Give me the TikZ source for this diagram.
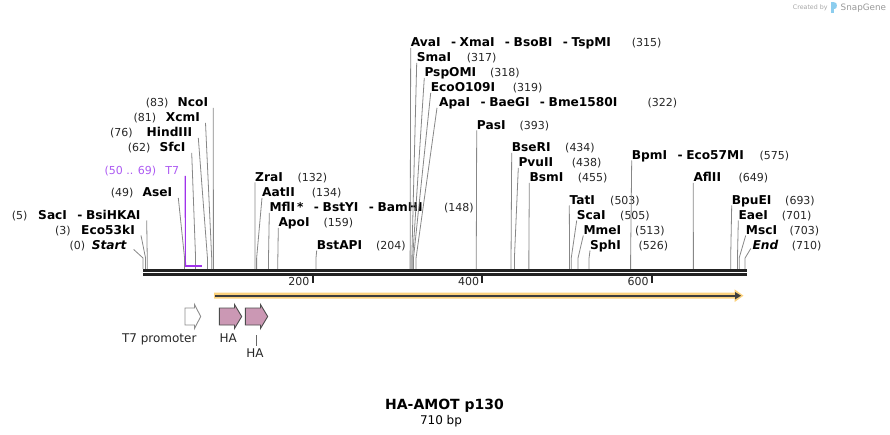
\documentclass[tikz,border=0pt]{standalone}
\usepackage{fontspec}
\setmainfont{DejaVu Sans}
\usepackage{xcolor}
\usepackage{tikz}
\usetikzlibrary{positioning}

\definecolor{sitegray}{RGB}{135,135,135}
\definecolor{bbcol}{RGB}{34,34,34}
\definecolor{t7col}{RGB}{160,50,235}
\definecolor{t7txt}{RGB}{172,90,242}
\definecolor{orfband}{RGB}{252,210,125}
\definecolor{orfline}{RGB}{62,62,62}
\definecolor{hafill}{RGB}{203,152,180}
\definecolor{sgblue}{RGB}{140,205,238}
\newcommand{\enzsep}{\hspace{0.85em}-\hspace{0.3em}}

\begin{document}
\begin{tikzpicture}[
    x=1pt, y=-1pt,
    declare function={bp(\n)=143+0.848*\n;},
    enz/.style={font=\fontsize{12.2}{14}\selectfont\bfseries, inner sep=0pt},
    endpt/.style={font=\fontsize{12.2}{14}\selectfont\bfseries\itshape, inner sep=0pt},
    num/.style={font=\fontsize{11}{13}\selectfont, text=black!85, inner sep=0pt},
    site/.style={draw=sitegray, line width=0.8pt},
    backbone/.style={draw=bbcol, line width=2.7pt},
    tick/.style={draw=bbcol, line width=2pt},
    featlbl/.style={font=\fontsize{12}{14}\selectfont, text=black!85, inner sep=0pt},
    feat/.style={draw=black!70, line width=0.9pt, line join=miter}
]
\useasboundingbox (0,0) rectangle (890,435);

% watermark
\node[anchor=base west, inner sep=0pt, text=black!35, font=\fontsize{6.3}{7}\selectfont] (madeby) at (792.7,9.3) {Created by};
\fill[sgblue] (831,2.5) rectangle (833.6,13.5);
\fill[sgblue] (833.6,2.5) -- (835,2.5) to[out=0,in=0] (835,8.8) -- (833.6,8.8) -- cycle;
\node[anchor=base west, inner sep=0pt, text=black!40, font=\fontsize{8.8}{10}\selectfont] (sgname) at (840.5,10.3) {SnapGene};

% site positions on the backbone
\foreach \p in {0,3,5,49,62,76,81,83,132,134,148,159,204,315,317,318,319,322,393,434,438,455,503,505,513,526,575,649,693,701,703,710}
  \coordinate (s\p) at ({bp(\p)},269);

% left labels
\node[endpt, anchor=base east] (startlbl) at (126.7,249.5) {Start};
\node[num, anchor=base west] (n0) at (69.3,249.5) {(0)};
\node[enz, anchor=base east] (eco53kI) at (135,234.5) {Eco53kI};
\node[num, anchor=base west] (n3) at (55,234.5) {(3)};
\node[enz, anchor=base east] (sacI) at (140.7,219.5) {SacI\enzsep BsiHKAI};
\node[num, anchor=base west] (n5) at (11.7,219.5) {(5)};
\node[enz, anchor=base east] (aseI) at (172.3,196.8) {AseI};
\node[num, anchor=base west] (n49) at (110.7,196.8) {(49)};
\node[enz, anchor=base east] (sfcI) at (185.7,151.8) {SfcI};
\node[num, anchor=base west] (n62) at (127.7,151.8) {(62)};
\node[enz, anchor=base east] (hindIII) at (192.3,136.8) {HindIII};
\node[num, anchor=base west] (n76) at (110,136.8) {(76)};
\node[enz, anchor=base east] (xcmI) at (200,121.8) {XcmI};
\node[num, anchor=base west] (n81) at (133.3,121.8) {(81)};
\node[enz, anchor=base east] (ncoI) at (208.3,106.8) {NcoI};
\node[num, anchor=base west] (n83) at (145.7,106.8) {(83)};

\draw[site] ([xshift=7pt]startlbl.base east) -- ([yshift=11pt]s0) -- (s0);
\draw[site] ([xshift=6pt,yshift=-1pt]eco53kI.base east) -- ([yshift=11pt]s3) -- (s3);
\draw[site] ([xshift=6pt,yshift=-1pt]sacI.base east) -- ([yshift=11pt]s5) -- (s5);
\draw[site] ([xshift=6pt,yshift=-1pt]aseI.base east) -- ([yshift=11pt]s49) -- (s49);
\draw[site] ([xshift=6pt,yshift=-1pt]sfcI.base east) -- ([yshift=11pt]s62) -- (s62);
\draw[site] ([xshift=6pt,yshift=-1pt]hindIII.base east) -- ([yshift=11pt]s76) -- (s76);
\draw[site] ([xshift=5.5pt,yshift=-1pt]xcmI.base east) -- ([yshift=11pt]s81) -- (s81);
\draw[site] ([xshift=5pt,yshift=-1pt]ncoI.base east) -- ([yshift=11pt]s83) -- (s83);

% T7 primer
\node[num, text=t7txt, anchor=base east] (t7lbl) at (179.3,174.5) {T7};
\node[num, text=t7txt, anchor=base west] (t7pos) at (104.3,174.5) {(50 .. 69)};
\coordinate (t7a) at ({bp(50)},265.7);
\coordinate (t7b) at ({bp(69)},265.7);
\draw[t7col, line width=1.2pt] ([xshift=6pt,yshift=-1.5pt]t7lbl.base east) -- (t7a);
\draw[t7col, line width=2pt] (t7a) -- (t7b);

% right labels
\node[enz, anchor=base west] (zraI) at (255,181.3) {ZraI};
\node[num, anchor=base west] (n132) at (297.3,181.3) {(132)};
\node[enz, anchor=base west] (aatII) at (262,196.8) {AatII};
\node[num, anchor=base west] (n134) at (311.7,196.8) {(134)};
\node[enz, anchor=base west] (mflI) at (269.3,211.8) {MflI\,*\enzsep BstYI\enzsep BamHI};
\node[num, anchor=base west] (n148) at (444,211.8) {(148)};
\node[enz, anchor=base west] (apoI) at (278.3,226.8) {ApoI};
\node[num, anchor=base west] (n159) at (323.3,226.8) {(159)};
\node[enz, anchor=base west] (bstAPI) at (316.7,249.5) {BstAPI};
\node[num, anchor=base west] (n204) at (376,249.5) {(204)};
\node[enz, anchor=base west] (avaI) at (410.7,46.8) {AvaI\enzsep XmaI\enzsep BsoBI\enzsep TspMI};
\node[num, anchor=base west] (n315) at (631.7,46.8) {(315)};
\node[enz, anchor=base west] (smaI) at (416.7,61.8) {SmaI};
\node[num, anchor=base west] (n317) at (466.7,61.8) {(317)};
\node[enz, anchor=base west] (pspOMI) at (424.3,76.8) {PspOMI};
\node[num, anchor=base west] (n318) at (490,76.8) {(318)};
\node[enz, anchor=base west] (ecoO109I) at (430.7,91.8) {EcoO109I};
\node[num, anchor=base west] (n319) at (512.7,91.8) {(319)};
\node[enz, anchor=base west] (apaI) at (439,106.8) {ApaI\enzsep BaeGI\enzsep Bme1580I};
\node[num, anchor=base west] (n322) at (647.3,106.8) {(322)};
\node[enz, anchor=base west] (pasI) at (476.7,129.5) {PasI};
\node[num, anchor=base west] (n393) at (519.3,129.5) {(393)};
\node[enz, anchor=base west] (bseRI) at (511.7,151.8) {BseRI};
\node[num, anchor=base west] (n434) at (565,151.8) {(434)};
\node[enz, anchor=base west] (pvuII) at (518.3,166.8) {PvuII};
\node[num, anchor=base west] (n438) at (571.7,166.8) {(438)};
\node[enz, anchor=base west] (bsmI) at (529.3,181.8) {BsmI};
\node[num, anchor=base west] (n455) at (577.7,181.8) {(455)};
\node[enz, anchor=base west] (tatI) at (569.3,204.5) {TatI};
\node[num, anchor=base west] (n503) at (610,204.5) {(503)};
\node[enz, anchor=base west] (scaI) at (576.7,219.5) {ScaI};
\node[num, anchor=base west] (n505) at (620,219.5) {(505)};
\node[enz, anchor=base west] (mmeI) at (583.3,234.5) {MmeI};
\node[num, anchor=base west] (n513) at (635,234.5) {(513)};
\node[enz, anchor=base west] (sphI) at (590,249.5) {SphI};
\node[num, anchor=base west] (n526) at (638.3,249.5) {(526)};
\node[enz, anchor=base west] (bpmI) at (631.7,159.5) {BpmI\enzsep Eco57MI};
\node[num, anchor=base west] (n575) at (759.3,159.5) {(575)};
\node[enz, anchor=base west] (aflII) at (693.3,181.8) {AflII};
\node[num, anchor=base west] (n649) at (738.3,181.8) {(649)};
\node[enz, anchor=base west] (bpuEI) at (731.7,204.5) {BpuEI};
\node[num, anchor=base west] (n693) at (785,204.5) {(693)};
\node[enz, anchor=base west] (eaeI) at (738.3,219.5) {EaeI};
\node[num, anchor=base west] (n701) at (781.7,219.5) {(701)};
\node[enz, anchor=base west] (mscI) at (745.7,234.5) {MscI};
\node[num, anchor=base west] (n703) at (789.3,234.5) {(703)};
\node[endpt, anchor=base west] (endlbl) at (752.3,249.5) {End};
\node[num, anchor=base west] (n710) at (791.7,249.5) {(710)};

\draw[site] ([yshift=-1pt]zraI.base west) -- ([yshift=11pt]s132) -- (s132);
\draw[site] ([yshift=-1pt]aatII.base west) -- ([yshift=11pt]s134) -- (s134);
\draw[site] ([yshift=-1pt]mflI.base west) -- ([yshift=11pt]s148) -- (s148);
\draw[site] ([yshift=-1pt]apoI.base west) -- ([yshift=11pt]s159) -- (s159);
\draw[site] ([yshift=-1pt]bstAPI.base west) -- ([yshift=11pt]s204) -- (s204);
\draw[site] ([yshift=-1pt]avaI.base west) -- ([yshift=11pt]s315) -- (s315);
\draw[site] ([yshift=-1pt]smaI.base west) -- ([yshift=11pt]s317) -- (s317);
\draw[site] ([yshift=-1pt]pspOMI.base west) -- ([yshift=11pt]s318) -- (s318);
\draw[site] ([yshift=-1pt]ecoO109I.base west) -- ([yshift=11pt]s319) -- (s319);
\draw[site] ([xshift=-2pt,yshift=-1pt]apaI.base west) -- ([yshift=11pt]s322) -- (s322);
\draw[site] ([yshift=-1pt]pasI.base west) -- ([yshift=11pt]s393) -- (s393);
\draw[site] ([yshift=-1pt]bseRI.base west) -- ([yshift=11pt]s434) -- (s434);
\draw[site] ([yshift=-1pt]pvuII.base west) -- ([yshift=11pt]s438) -- (s438);
\draw[site] ([yshift=-1pt]bsmI.base west) -- ([yshift=11pt]s455) -- (s455);
\draw[site] ([yshift=-1pt]tatI.base west) -- ([yshift=11pt]s503) -- (s503);
\draw[site] ([yshift=-1pt]scaI.base west) -- ([yshift=11pt]s505) -- (s505);
\draw[site] ([yshift=-1pt]mmeI.base west) -- ([yshift=11pt]s513) -- (s513);
\draw[site] ([yshift=-1pt]sphI.base west) -- ([yshift=11pt]s526) -- (s526);
\draw[site] ([yshift=-1pt]bpmI.base west) -- ([yshift=11pt]s575) -- (s575);
\draw[site] ([yshift=-1pt]aflII.base west) -- ([yshift=11pt]s649) -- (s649);
\draw[site] ([yshift=-1pt]bpuEI.base west) -- ([yshift=11pt]s693) -- (s693);
\draw[site] ([yshift=-1pt]eaeI.base west) -- ([yshift=11pt]s701) -- (s701);
\draw[site] ([yshift=-1pt]mscI.base west) -- ([yshift=11pt]s703) -- (s703);
\draw[site] ([xshift=-1.5pt,yshift=1pt]endlbl.base west) -- ([yshift=11pt]s710) -- (s710);

% backbone and ruler
\draw[backbone] (143,270.6) -- (746.5,270.6);
\draw[backbone] (143,274.4) -- (746.5,274.4);
\draw[tick] ({bp(200)},275) -- ({bp(200)},282.7);
\draw[tick] ({bp(400)},275) -- ({bp(400)},282.7);
\draw[tick] ({bp(600)},275) -- ({bp(600)},282.7);
\node[num, anchor=base east] (r200) at ({bp(200)-3},285.7) {200};
\node[num, anchor=base east] (r400) at ({bp(400)-3},285.7) {400};
\node[num, anchor=base east] (r600) at ({bp(600)-3},285.7) {600};

% HA-AMOT ORF
\fill[orfband] ({bp(84)},292.7) -- (734.5,292.7) -- (734.5,289.3) -- (743.5,295.7)
  -- (734.5,302.1) -- (734.5,298.7) -- ({bp(84)},298.7) -- cycle;
\draw[orfline, line width=2pt] ({bp(84)+1},295.7) -- (736,295.7);
\fill[orfline] (735,292) -- (741,295.7) -- (735,299.4) -- cycle;

% features
\draw[feat, draw=black!45, fill=white] (185,308) -- (194.5,308) -- (194.5,304.5) -- (200.7,316.5)
  -- (194.5,328.5) -- (194.5,325) -- (185,325) -- cycle;
\draw[feat, fill=hafill] (219.3,308) -- (234.5,308) -- (234.5,304.5) -- (241.7,316.5)
  -- (234.5,328.5) -- (234.5,325) -- (219.3,325) -- cycle;
\draw[feat, fill=hafill] (245.3,308) -- (260.5,308) -- (260.5,304.5) -- (267.7,316.5)
  -- (260.5,328.5) -- (260.5,325) -- (245.3,325) -- cycle;
\node[featlbl, anchor=base east] (t7prom) at (196.7,342) {T7 promoter};
\node[featlbl, anchor=base] (ha1lbl) at (228.3,342) {HA};
\node[featlbl, anchor=base] (ha2lbl) at (255,357.8) {HA};
\coordinate (ha2top) at (256.7,335);
\draw[draw=black!60, line width=0.7pt] (ha2top) -- (256.7,346);

% title
\node[inner sep=0pt, anchor=base, font=\fontsize{14}{16}\selectfont\bfseries] (mapname) at (444.5,409) {HA-AMOT p130};
\node[inner sep=0pt, anchor=base, font=\fontsize{12}{14}\selectfont] (mapsize) at (441,424) {710 bp};

\end{tikzpicture}
\end{document}
